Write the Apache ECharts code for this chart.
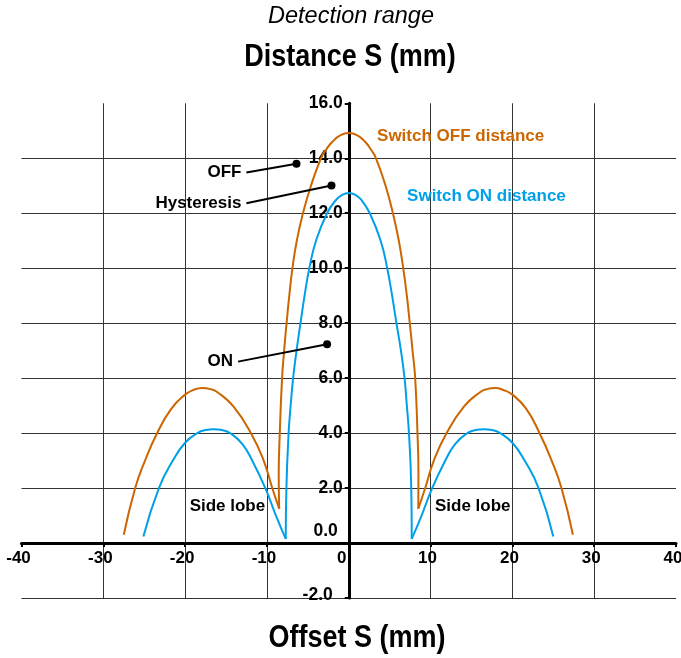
<!DOCTYPE html>
<html><head><meta charset="utf-8">
<script src="https://cdn.jsdelivr.net/npm/echarts@6/dist/echarts.min.js"></script>
<style>html,body{margin:0;padding:0;background:#fff}#c{width:681px;height:658px}</style>
</head><body><div id="c"></div>
<script>
// ---- Data ----
// Switch OFF distance (orange), split into lobes that meet at the dips
const offLeftLobe = [[-27.5,0.3],[-26.1,2.0],[-24.9,3.0],[-23.5,3.95],[-21.7,4.88],[-20.0,5.4],[-19.0,5.57],[-17.9,5.64],[-16.9,5.6],[-16.0,5.48],[-14.1,4.97],[-11.9,3.97],[-10.4,3.0],[-9.35,2.0],[-8.5,1.25]];
const offMainLobe = [[-8.5,1.25],[-8.56,2.5],[-8.43,4.0],[-8.15,6.0],[-7.9,7.0],[-7.6,8.0],[-7.27,9.0],[-6.88,10.0],[-6.35,11.0],[-5.6,12.0],[-4.62,13.0],[-3.4,14.0],[-2.8,14.3],[-2.0,14.6],[-1.0,14.84],[0,14.92],[1.0,14.84],[2.0,14.6],[2.75,14.3],[3.33,14.0],[4.5,13.0],[5.4,12.0],[6.12,11.0],[6.66,10.0],[7.1,9.0],[7.46,8.0],[7.8,7.0],[8.12,6.0],[8.4,4.0],[8.52,2.5],[8.5,1.25]];
const offRightLobe = [[8.5,1.25],[9.35,2.0],[10.4,3.0],[11.9,3.97],[14.1,4.97],[16.0,5.48],[16.9,5.6],[17.9,5.64],[18.9,5.57],[20.0,5.4],[21.7,4.88],[23.4,3.95],[24.8,3.0],[26.0,2.0],[27.4,0.3]];
// Switch ON distance (blue)
const onLeftLobe = [[-25.1,0.24],[-23.2,2.0],[-21.5,3.0],[-20.0,3.65],[-18.5,4.0],[-17.5,4.11],[-16.5,4.14],[-15.5,4.11],[-14.5,4.0],[-13.0,3.6],[-11.8,3.0],[-10.2,2.0],[-8.9,1.0],[-7.7,0.15]];
const onMainLobe = [[-7.7,0.15],[-7.62,2.0],[-7.35,4.0],[-7.1,5.0],[-6.8,6.0],[-6.38,7.0],[-5.9,8.0],[-5.4,9.0],[-4.82,10.0],[-4.0,11.0],[-2.65,12.0],[-1.5,12.5],[-0.75,12.68],[0,12.74],[0.75,12.68],[1.5,12.5],[2.57,12.0],[3.9,11.0],[4.7,10.0],[5.3,9.0],[5.83,8.0],[6.38,7.0],[6.82,6.0],[7.1,5.0],[7.36,4.0],[7.64,2.0],[7.7,0.15]];
const onRightLobe = [[7.7,0.15],[8.9,1.0],[10.2,2.0],[11.8,3.0],[13.0,3.6],[14.5,4.0],[15.5,4.11],[16.5,4.14],[17.5,4.11],[18.5,4.0],[20.0,3.65],[21.5,3.0],[23.2,2.0],[25.0,0.24]];

// Axis ranges / ticks
const xRange = [-40, 40], xStep = 10;
const yRange = [-2, 16], yStep = 2;

// Annotation texts and anchor points (data coordinates)
const pointerNotes = [
  {text:'OFF',        from:[-12.51,13.48], to:[-6.39,13.80]},
  {text:'Hysteresis', from:[-12.51,12.36], to:[-2.11,13.01]},
  {text:'ON',         from:[-13.53,6.60],  to:[-2.65,7.23]}
];
const seriesNotes = [
  {text:'Switch OFF distance', at:[3.46,14.79], color:'off'},
  {text:'Switch ON distance',  at:[7.13,12.60], color:'on'}
];
const lobeNotes = [
  {text:'Side lobe', at:[-14.83,1.35]},
  {text:'Side lobe', at:[15.16,1.35]}
];

// ---- Chart ----
const FONT = "'Liberation Sans', Arial, Helvetica, sans-serif";
const ORANGE = '#CC6600', BLUE = '#00A0E9';
const W = 681, H = 658;
const GRID = {left:21.5, right:5, top:103.3, bottom:60};
const gridW = W - GRID.left - GRID.right, gridH = H - GRID.top - GRID.bottom;
// move the axes onto the zero lines
const yAxisOffset = -gridW * (0 - xRange[0]) / (xRange[1] - xRange[0]);
const xAxisOffset = -gridH * (0 - yRange[0]) / (yRange[1] - yRange[0]);

const chart = echarts.init(document.getElementById('c'), null, {renderer:'canvas', width:W, height:H});

function lobe(data, color){
  return {type:'line', data, smooth:0.5, symbol:'none', silent:true,
          lineStyle:{color, width:2}, z:3, clip:false};
}
const lblBase = {fontFamily:FONT, fontWeight:'bold', fontSize:17, color:'#000'};
const yLbl = {...lblBase, fontSize:17.5};

chart.setOption({
  animation:false,
  backgroundColor:'#fff',
  grid:{...GRID, containLabel:false, outerBoundsMode:'none'},
  xAxis:{
    type:'value', min:xRange[0], max:xRange[1], interval:xStep,
    position:'bottom', offset:xAxisOffset,
    axisLine:{onZero:false, lineStyle:{color:'#000', width:3}},
    axisTick:{show:true, length:4, lineStyle:{color:'#000', width:2}},
    axisLabel:{margin:7, ...lblBase, showMinLabel:true, showMaxLabel:true,
      formatter:v => v===0 ? '{z|0}' : '{n|'+v+'}',
      rich:{z:{...lblBase, padding:[0,14,0,0]}, n:{...lblBase, padding:[0,6,0,0]}}},
    splitLine:{show:true, showMinLine:false, showMaxLine:false, lineStyle:{color:'#333', width:1}}
  },
  yAxis:{
    type:'value', min:yRange[0], max:yRange[1], interval:yStep,
    position:'left', offset:yAxisOffset,
    axisLine:{onZero:false, lineStyle:{color:'#000', width:3}},
    axisTick:{show:true, length:4, lineStyle:{color:'#000', width:2}},
    axisLabel:{margin:6, ...yLbl, showMinLabel:true, showMaxLabel:true,
      formatter:v => v===0 ? '{z|0.0}' : (v===-2 ? '{m|-2.0}' : '{n|'+v.toFixed(1)+'}'),
      rich:{z:{...yLbl, padding:[0,5,23,0]}, m:{...yLbl, padding:[0,10,5,0]}, n:{...yLbl}}},
    splitLine:{show:true, showMinLine:true, showMaxLine:false, lineStyle:{color:'#333', width:1}}
  },
  series:[
    lobe(offLeftLobe, ORANGE), lobe(offMainLobe, ORANGE), lobe(offRightLobe, ORANGE),
    lobe(onLeftLobe, BLUE), lobe(onMainLobe, BLUE), lobe(onRightLobe, BLUE)
  ]
});

const px = p => chart.convertToPixel({gridIndex:0}, p);
const g = [];
g.push({type:'text', x:351, y:16, z:10, style:{text:'Detection range', font:"italic 23.5px "+FONT, fill:'#000', align:'center', verticalAlign:'middle'}});
g.push({type:'text', x:350, y:57, z:10, scaleY:1.15, style:{text:'Distance S (mm)', font:"bold 27px "+FONT, fill:'#000', align:'center', verticalAlign:'middle'}});
g.push({type:'text', x:357, y:638, z:10, scaleY:1.15, style:{text:'Offset S (mm)', font:"bold 27px "+FONT, fill:'#000', align:'center', verticalAlign:'middle'}});
pointerNotes.forEach(n => {
  const a = px(n.from), b = px(n.to);
  g.push({type:'line', z:10, shape:{x1:a[0], y1:a[1], x2:b[0], y2:b[1]}, style:{stroke:'#000', lineWidth:2}});
  g.push({type:'circle', z:10, shape:{cx:b[0], cy:b[1], r:4}, style:{fill:'#000'}});
  g.push({type:'text', z:10, x:a[0]-5, y:a[1], style:{text:n.text, font:"bold 17px "+FONT, fill:'#000', align:'right', verticalAlign:'middle'}});
});
seriesNotes.forEach(n => {
  const a = px(n.at);
  g.push({type:'text', z:10, x:a[0], y:a[1], style:{text:n.text, font:"bold 17px "+FONT, fill:n.color==='off'?ORANGE:BLUE, align:'left', verticalAlign:'middle'}});
});
lobeNotes.forEach(n => {
  const a = px(n.at);
  g.push({type:'text', z:10, x:a[0], y:a[1], style:{text:n.text, font:"bold 17px "+FONT, fill:'#000', align:'center', verticalAlign:'middle'}});
});
chart.setOption({graphic:g});
</script></body></html>
